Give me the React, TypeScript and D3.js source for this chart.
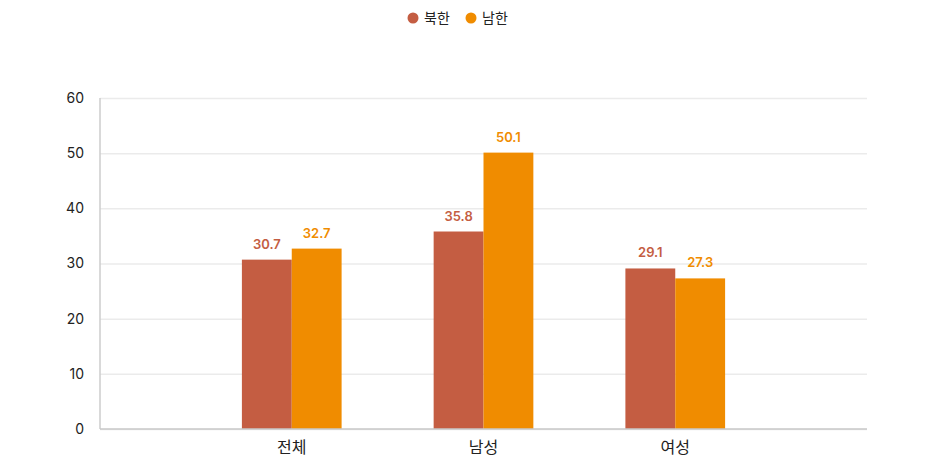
import * as d3 from 'd3';
import { useEffect, useRef } from 'react';

const categories = ['전체', '남성', '여성'];
const seriesNames = ['북한', '남한'];
const northValues = [30.7, 35.8, 29.1];
const southValues = [32.7, 50.1, 27.3];
const seriesColors = ['#C45D42', '#F08C00'];
const yTicks = [0, 10, 20, 30, 40, 50, 60];

const FONT = "Inter, 'Noto Sans CJK KR', sans-serif";

const App = () => {
  const svgRef = useRef<SVGSVGElement>(null);

  useEffect(() => {
    if (!svgRef.current) return;
    const svg = d3.select(svgRef.current);
    svg.selectAll('*').remove();

    const width = 950;
    const height = 470;
    const margin = { top: 98, right: 83, bottom: 41, left: 100 };
    const innerW = width - margin.left - margin.right;
    const innerH = height - margin.top - margin.bottom;

    const g = svg
      .append('g')
      .attr('transform', `translate(${margin.left},${margin.top})`);

    // category centres sit on the inner band boundaries
    const x = d3
      .scaleLinear()
      .domain([-1, categories.length])
      .range([0, innerW]);
    const step = x(1) - x(0);
    const groupW = step * 0.52;
    const inner = d3
      .scaleBand()
      .domain(seriesNames)
      .range([-groupW / 2, groupW / 2])
      .padding(0);

    const y = d3.scaleLinear().domain([0, 60]).range([innerH, 0]);

    // grid
    g.append('g')
      .call(
        d3
          .axisLeft(y)
          .tickValues(yTicks)
          .tickSize(-innerW)
          .tickFormat(() => ''),
      )
      .call((a) => a.select('.domain').remove())
      .call((a) =>
        a.selectAll('.tick line').attr('stroke', '#EBEBEB').attr('stroke-width', 1.5),
      );

    // y labels
    g.selectAll('.ylab')
      .data(yTicks)
      .join('text')
      .attr('class', 'ylab')
      .attr('x', -16)
      .attr('y', (d) => y(d))
      .attr('dy', '0.35em')
      .attr('text-anchor', 'end')
      .attr('fill', '#222')
      .attr('font-size', '14px')
      .attr('font-family', FONT)
      .text((d) => d);

    const rows = categories.map((c, i) => ({
      cat: c,
      i,
      vals: [northValues[i], southValues[i]],
    }));

    const groups = g
      .selectAll('.grp')
      .data(rows)
      .join('g')
      .attr('class', 'grp')
      .attr('transform', (d) => `translate(${x(d.i)},0)`);

    groups
      .selectAll('rect')
      .data((d) => d.vals.map((v, k) => ({ v, k })))
      .join('rect')
      .attr('x', (d) => inner(seriesNames[d.k]) || 0)
      .attr('width', inner.bandwidth())
      .attr('y', (d) => y(d.v))
      .attr('height', (d) => innerH - y(d.v))
      .attr('fill', (d) => seriesColors[d.k]);

    groups
      .selectAll('.val')
      .data((d) => d.vals.map((v, k) => ({ v, k })))
      .join('text')
      .attr('class', 'val')
      .attr('x', (d) => (inner(seriesNames[d.k]) || 0) + inner.bandwidth() / 2)
      .attr('y', (d) => y(d.v) - 11)
      .attr('text-anchor', 'middle')
      .attr('fill', (d) => seriesColors[d.k])
      .attr('font-size', '13px')
      .attr('font-weight', '600')
      .attr('font-family', FONT)
      .text((d) => d.v.toFixed(1));

    // axes lines
    g.append('line')
      .attr('x1', 0)
      .attr('x2', 0)
      .attr('y1', 0)
      .attr('y2', innerH)
      .attr('stroke', '#CCCCCC')
      .attr('stroke-width', 1.5);
    g.append('line')
      .attr('x1', 0)
      .attr('x2', innerW)
      .attr('y1', innerH)
      .attr('y2', innerH)
      .attr('stroke', '#C8C8C8')
      .attr('stroke-width', 1.5);

    // category labels
    g.selectAll('.xlab')
      .data(rows)
      .join('text')
      .attr('class', 'xlab')
      .attr('x', (d) => x(d.i))
      .attr('y', innerH + 24)
      .attr('text-anchor', 'middle')
      .attr('fill', '#222')
      .attr('font-size', '16px')
      .attr('font-family', FONT)
      .text((d) => d.cat);

    // legend
    const legendX = [413, 471];
    const leg = svg
      .selectAll('.leg')
      .data(seriesNames)
      .join('g')
      .attr('class', 'leg')
      .attr('transform', (_, i) => `translate(${legendX[i]},18)`);
    leg
      .append('circle')
      .attr('r', 5.5)
      .attr('fill', (_, i) => seriesColors[i]);
    leg
      .append('text')
      .attr('x', 11)
      .attr('dy', '0.35em')
      .attr('fill', '#222')
      .attr('font-size', '14px')
      .attr('font-family', FONT)
      .text((d) => d);
  }, []);

  return (
    <svg
      ref={svgRef}
      width={950}
      height={470}
      style={{ position: 'absolute', left: 0, top: 0, background: '#fff' }}
    />
  );
};

export default App;
